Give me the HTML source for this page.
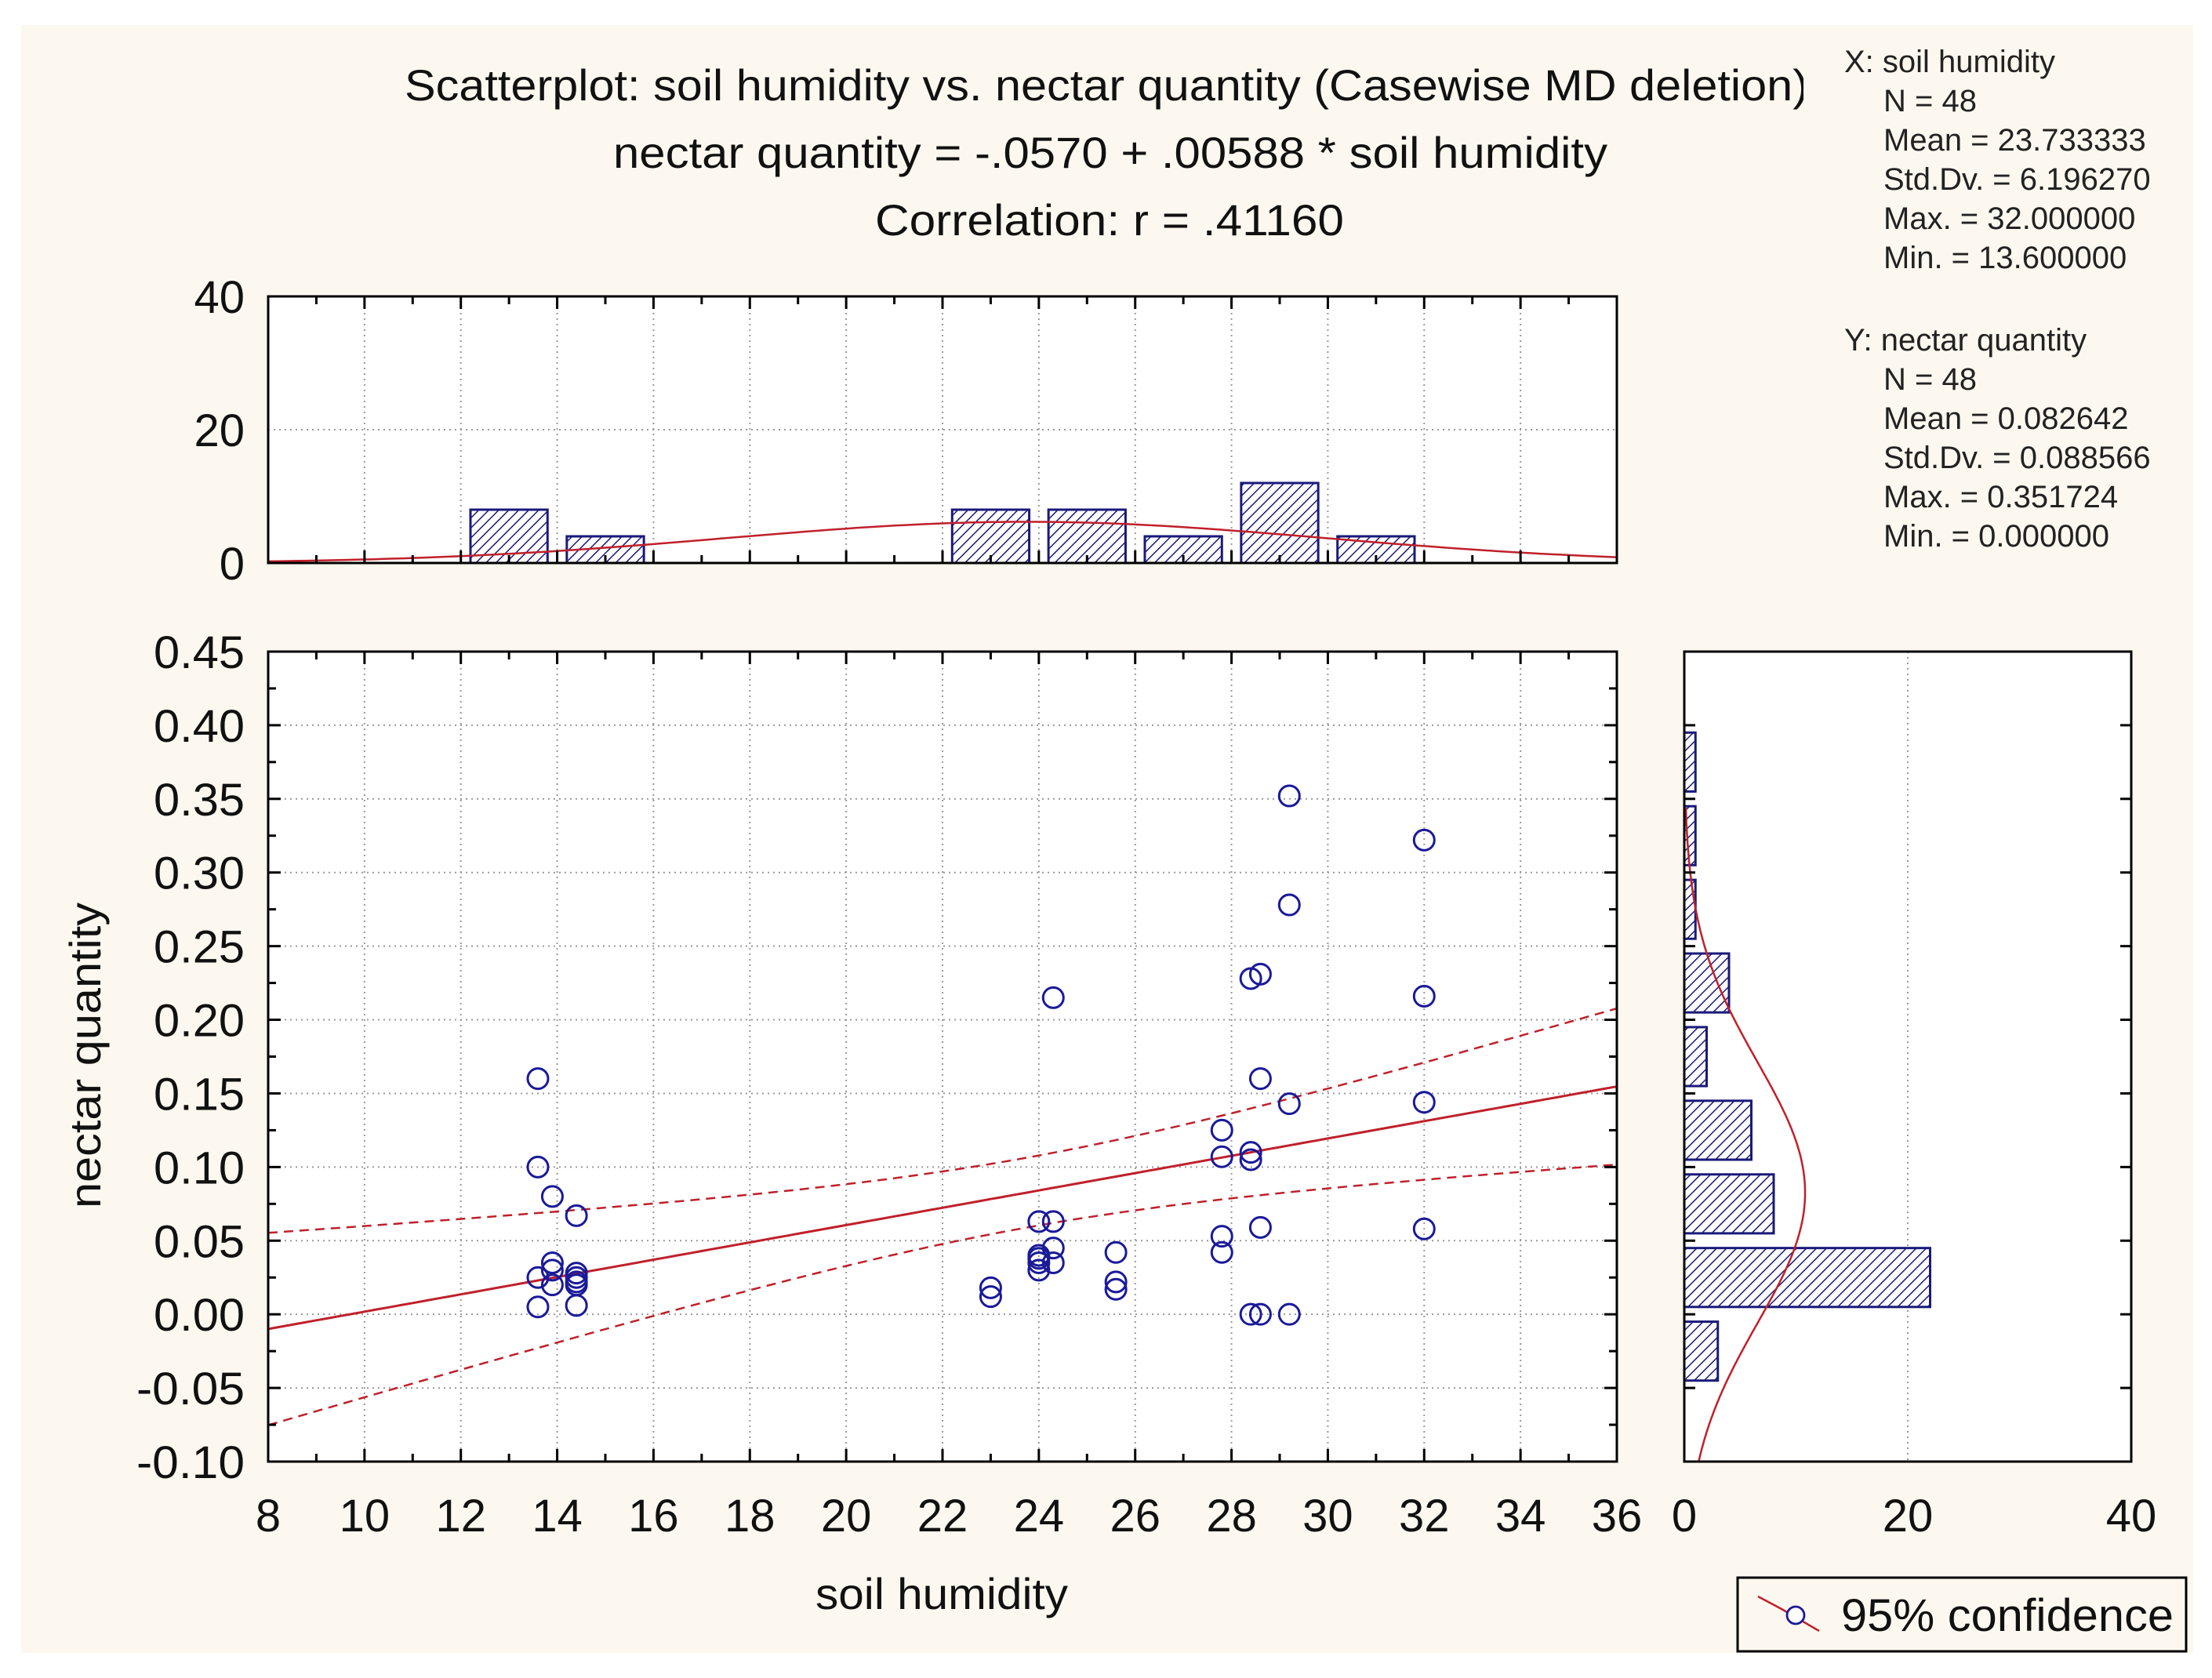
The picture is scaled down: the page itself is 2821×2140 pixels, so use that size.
<!DOCTYPE html>
<html><head><meta charset="utf-8"><style>
html,body{margin:0;padding:0;background:#fff;}
svg{display:block;font-family:"Liberation Sans",Arial,sans-serif;}
</style></head><body>
<svg id="c" width="2821" height="2140" xmlns="http://www.w3.org/2000/svg">
<defs>
<pattern id="hatch" patternUnits="userSpaceOnUse" width="9" height="9" patternTransform="rotate(45)">
<rect width="9" height="9" fill="#fff"/><line x1="0" y1="0" x2="0" y2="9" stroke="#1a1a7a" stroke-width="3"/>
</pattern>
<clipPath id="titleclip"><rect x="0" y="0" width="2300" height="400"/></clipPath>
</defs>
<rect x="27" y="32" width="2770" height="2076" fill="#fdf8ef"/>
<g id="g"></g>
</svg>
<script>
// data
const xPoints=[13.6,13.6,13.6,13.6,13.9,13.9,13.9,13.9,14.4,14.4,14.4,14.4,14.4,23,23,24,24,24,24,24,24.3,24.3,24.3,24.3,25.6,25.6,25.6,27.8,27.8,27.8,27.8,28.4,28.4,28.4,28.4,28.6,28.6,28.6,28.6,29.2,29.2,29.2,29.2,32,32,32,32,14.4];
const yPoints=[0.16,0.10,0.025,0.005,0.08,0.035,0.02,0.03,0.067,0.028,0.02,0.006,0.025,0.018,0.012,0.063,0.04,0.035,0.03,0.038,0.215,0.063,0.045,0.035,0.042,0.022,0.017,0.125,0.107,0.053,0.042,0.228,0.11,0.105,0.0,0.231,0.16,0.059,0.0,0.352,0.278,0.143,0.0,0.322,0.216,0.144,0.058,0.022];
const xBinStarts=[12,14,16,18,20,22,24,26,28,30,32,34];
const xBinCounts=[8,4,0,0,0,8,8,4,12,4,0,0];
const yBinStarts=[-0.05,0,0.05,0.10,0.15,0.20,0.25,0.30,0.35];
const yBinCounts=[3,22,8,6,2,4,1,1,1];
const xTicks=[8,10,12,14,16,18,20,22,24,26,28,30,32,34,36];
const yTicks=[-0.10,-0.05,0.00,0.05,0.10,0.15,0.20,0.25,0.30,0.35,0.40,0.45];
const histTicks=[0,20,40];
const intercept=-0.0570, slope=0.00588;
const xMean=23.733333, xSd=6.196270, yMean=0.082642, ySd=0.088566, nObs=48, rCorr=0.41160;

const NS="http://www.w3.org/2000/svg";
const G=document.getElementById('g');
function el(t,a,p){const e=document.createElementNS(NS,t);for(const k in a)e.setAttribute(k,a[k]);(p||G).appendChild(e);return e;}
const ML=342,MR=2062,MT=831,MB=1864;
const X=v=>ML+(v-8)/28*(MR-ML);
const Y=v=>MB-(v+0.10)/0.55*(MB-MT);
const TT=378,TB=718; const TH=v=>TB-v/40*(TB-TT);
const RL=2148,RR=2718; const RW=v=>RL+v/40*(RR-RL);

let e;
e=el('rect',{x:ML,y:MT,width:MR-ML,height:MB-MT,fill:'#fff'});
e=el('rect',{x:ML,y:TT,width:MR-ML,height:TB-TT,fill:'#fff'});
e=el('rect',{x:RL,y:MT,width:RR-RL,height:MB-MT,fill:'#fff'});

const gs={stroke:'#9a9a9a','stroke-width':2,'stroke-dasharray':'2 5'};
xTicks.slice(1,-1).forEach(v=>{el('line',Object.assign({x1:X(v),x2:X(v),y1:MT,y2:MB},gs));el('line',Object.assign({x1:X(v),x2:X(v),y1:TT,y2:TB},gs));});
yTicks.slice(1,-1).forEach(v=>{el('line',Object.assign({x1:ML,x2:MR,y1:Y(v),y2:Y(v)},gs));});
el('line',Object.assign({x1:ML,x2:MR,y1:TH(20),y2:TH(20)},gs));
el('line',Object.assign({x1:RW(20),x2:RW(20),y1:MT,y2:MB},gs));

xBinStarts.forEach((s,i)=>{if(!xBinCounts[i])return;
 const b=el('rect',{x:X(s+0.2),y:TH(xBinCounts[i]),width:X(s+1.8)-X(s+0.2),height:TB-TH(xBinCounts[i]),fill:'url(#hatch)',stroke:'#1a1a7a','stroke-width':3});
 
 });
yBinStarts.forEach((s,i)=>{if(!yBinCounts[i])return;
 const b=el('rect',{x:RL,y:Y(s+0.045),width:RW(yBinCounts[i])-RL,height:Y(s+0.005)-Y(s+0.045),fill:'url(#hatch)',stroke:'#1a1a7a','stroke-width':3});
 
 });

const npdf=(v,m,s)=>Math.exp(-0.5*((v-m)/s)**2)/(s*Math.sqrt(2*Math.PI));
let d='';for(let v=8;v<=36.001;v+=0.2){d+=(d?'L':'M')+X(v).toFixed(1)+','+TH(nObs*2*npdf(v,xMean,xSd)).toFixed(1);}
e=el('path',{d,fill:'none',stroke:'#c0202a','stroke-width':2.5});
d='';for(let v=-0.10;v<=0.345;v+=0.002){d+=(d?'L':'M')+RW(nObs*0.05*npdf(v,yMean,ySd)).toFixed(1)+','+Y(v).toFixed(1);}
e=el('path',{d,fill:'none',stroke:'#c0202a','stroke-width':2.5});

const sRes=ySd*Math.sqrt(1-rCorr*rCorr)*Math.sqrt((nObs-1)/(nObs-2));
const Sxx=(nObs-1)*xSd*xSd;
let dl='',du='',dm='';
for(let v=8;v<=36.001;v+=0.25){const f=intercept+slope*v;const se=2.013*sRes*Math.sqrt(1/nObs+(v-xMean)**2/Sxx);
 dm+=(dm?'L':'M')+X(v).toFixed(1)+','+Y(f).toFixed(1);
 du+=(du?'L':'M')+X(v).toFixed(1)+','+Y(f+se).toFixed(1);
 dl+=(dl?'L':'M')+X(v).toFixed(1)+','+Y(f-se).toFixed(1);}
e=el('path',{d:dm,fill:'none',stroke:'#c0202a','stroke-width':3});
e=el('path',{d:du,fill:'none',stroke:'#c0202a','stroke-width':2.5,'stroke-dasharray':'12 8'});
e=el('path',{d:dl,fill:'none',stroke:'#c0202a','stroke-width':2.5,'stroke-dasharray':'12 8'});

xPoints.forEach((xv,i)=>{const c=el('circle',{cx:X(xv),cy:Y(yPoints[i]),r:13,fill:'none',stroke:'#1a1a9a','stroke-width':3});
 
 });

const fr={fill:'none',stroke:'#000','stroke-width':3};
el('rect',Object.assign({x:ML,y:MT,width:MR-ML,height:MB-MT},fr));
el('rect',Object.assign({x:ML,y:TT,width:MR-ML,height:TB-TT},fr));
el('rect',Object.assign({x:RL,y:MT,width:RR-RL,height:MB-MT},fr));
for(let v=8;v<=36;v+=1){const L=v%2?10:16;
 el('line',{x1:X(v),x2:X(v),y1:MB,y2:MB-L,stroke:'#000','stroke-width':3});
 el('line',{x1:X(v),x2:X(v),y1:MT,y2:MT+L,stroke:'#000','stroke-width':3});
 el('line',{x1:X(v),x2:X(v),y1:TB,y2:TB-L,stroke:'#000','stroke-width':3});
 el('line',{x1:X(v),x2:X(v),y1:TT,y2:TT+L,stroke:'#000','stroke-width':3});}
for(let k=0;k<=22;k++){const v=-0.10+k*0.025;const L=k%2?10:16;
 el('line',{x1:ML,x2:ML+L,y1:Y(v),y2:Y(v),stroke:'#000','stroke-width':3});
 el('line',{x1:MR,x2:MR-L,y1:Y(v),y2:Y(v),stroke:'#000','stroke-width':3});
 if(k%2===0&&k>0&&k<22){el('line',{x1:RL,x2:RL+14,y1:Y(v),y2:Y(v),stroke:'#000','stroke-width':3});el('line',{x1:RR,x2:RR-14,y1:Y(v),y2:Y(v),stroke:'#000','stroke-width':3});}}

function txt(s,x,y,size,anchor,name){const t=el('text',{x,y,'font-size':size,'text-anchor':anchor||'start',fill:'#111'});t.textContent=s;
 
 return t;}
function fit(t,len){t.setAttribute('textLength',len);t.setAttribute('lengthAdjust','spacingAndGlyphs');return t;}
xTicks.forEach(v=>txt(String(v),X(v),1953,58,'middle','x-tick-label'));
yTicks.forEach(v=>fit(txt(v.toFixed(2),312,Y(v)+21,58,'end','y-tick-label'),v<0?138:116));
histTicks.forEach(v=>txt(String(v),312,TH(v)+21,58,'end','top-hist-tick-label'));
histTicks.forEach(v=>txt(String(v),RW(v),1953,58,'middle','right-hist-tick-label'));

const t1=fit(txt('Scatterplot: soil humidity vs. nectar quantity (Casewise MD deletion)',516,128,56,'start','chart-title'),1790);
t1.setAttribute('clip-path','url(#titleclip)');
fit(txt('nectar quantity = -.0570 + .00588 * soil humidity',782,214,56,'start','regression-equation'),1268);
fit(txt('Correlation: r = .41160',1116,300,56,'start','correlation-label'),598);
fit(txt('soil humidity',1040,2052,56,'start','x-axis-title'),322);
const yt=fit(txt('nectar quantity',0,0,56,'middle','y-axis-title'),390);yt.setAttribute('transform','translate(128,1346) rotate(-90)');

const statsX=['X:  soil humidity','N = 48','Mean = 23.733333','Std.Dv. = 6.196270','Max. = 32.000000','Min. = 13.600000'];
const statsY=['Y:  nectar quantity','N = 48','Mean = 0.082642','Std.Dv. = 0.088566','Max. = 0.351724','Min. = 0.000000'];
statsX.forEach((s,i)=>{const t=txt(s,i?2402:2352,92+i*50,40,'start','x-stats-line');t.setAttribute('fill','#222');t.setAttribute('xml:space','preserve');});
statsY.forEach((s,i)=>{const t=txt(s,i?2402:2352,447+i*50,40,'start','y-stats-line');t.setAttribute('fill','#222');});

e=el('rect',{x:2216,y:2012,width:572,height:94,fill:'#fdf8ef',stroke:'#000','stroke-width':3});
e=el('path',{d:'M2242,2036 L2272,2052 L2320,2080',fill:'none',stroke:'#c0202a','stroke-width':2.5});
e=el('circle',{cx:2290,cy:2060,r:11,fill:'#fff',stroke:'#1a1a9a','stroke-width':2.8});
fit(txt('95% confidence',2348,2080,58,'start','legend-entry'),424);
</script>
</body></html>
